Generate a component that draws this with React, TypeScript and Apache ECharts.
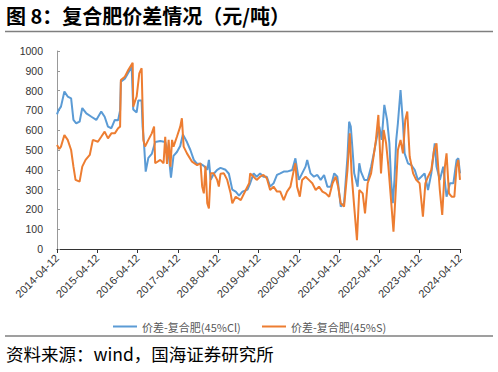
import React, { useEffect, useRef } from "react";
import * as echarts from "echarts";

const titleText = "图 8：复合肥价差情况（元/吨）";
const sourceText = "资料来源：wind，国海证券研究所";
const seriesNames = ["价差-复合肥(45%Cl)", "价差-复合肥(45%S)"];
const tickLabels = [
  "2014-04-12", "2015-04-12", "2016-04-12", "2017-04-12", "2018-04-12", "2019-04-12",
  "2020-04-12", "2021-04-12", "2022-04-12", "2023-04-12", "2024-04-12",
];

const clDates = [
  "2014-04-12", "2014-04-25", "2014-05-18", "2014-06-18", "2014-07-18", "2014-08-18", "2014-09-08", "2014-10-03",
  "2014-11-03", "2014-11-27", "2015-01-03", "2015-02-18", "2015-04-03", "2015-05-18", "2015-06-18", "2015-07-18",
  "2015-08-18", "2015-09-18", "2015-10-18", "2015-11-05", "2015-11-12", "2015-12-18", "2016-01-18", "2016-02-18",
  "2016-03-03", "2016-04-03", "2016-04-18", "2016-05-18", "2016-05-27", "2016-06-08", "2016-06-24", "2016-07-18",
  "2016-08-18", "2016-09-18", "2016-11-03", "2016-12-18", "2017-01-18", "2017-02-08", "2017-03-03", "2017-04-03",
  "2017-05-03", "2017-05-27", "2017-07-03", "2017-08-03", "2017-09-03", "2017-10-03", "2017-11-03", "2017-12-03",
  "2018-01-03", "2018-01-18", "2018-02-03", "2018-03-03", "2018-04-03", "2018-05-03", "2018-06-18", "2018-07-18",
  "2018-08-18", "2018-09-18", "2018-10-18", "2018-11-18", "2019-01-03", "2019-01-27", "2019-02-27", "2019-03-27",
  "2019-04-27", "2019-05-27", "2019-06-27", "2019-07-27", "2019-08-27", "2019-09-27", "2019-10-27", "2019-11-27",
  "2019-12-27", "2020-02-12", "2020-03-12", "2020-04-12", "2020-05-12", "2020-06-12", "2020-06-27", "2020-07-27",
  "2020-08-27", "2020-09-27", "2020-10-27", "2020-11-27", "2020-12-27", "2021-01-27", "2021-02-27", "2021-03-27",
  "2021-04-27", "2021-05-27", "2021-06-27", "2021-07-12", "2021-07-27", "2021-08-12", "2021-08-27", "2021-09-27",
  "2021-10-12", "2021-10-27", "2021-11-27", "2021-12-27", "2022-01-27", "2022-02-27", "2022-03-21", "2022-04-12",
  "2022-05-03", "2022-05-27", "2022-06-21", "2022-07-12", "2022-07-27", "2022-08-12", "2022-08-27", "2022-09-12",
  "2022-09-27", "2022-10-21", "2022-11-12", "2022-11-27", "2022-12-27", "2023-01-27", "2023-02-27", "2023-03-27",
  "2023-04-27", "2023-05-27", "2023-06-27", "2023-07-27", "2023-08-27", "2023-09-12", "2023-10-12", "2023-11-12",
  "2023-12-12", "2024-01-12", "2024-02-12", "2024-03-12", "2024-03-28", "2024-04-12",
];
const clValues = [
  680, 700, 719, 795, 770, 761, 652, 635,
  643, 712, 685, 668, 652, 694, 668, 618,
  610, 652, 650, 700, 845, 860, 890, 921,
  705, 690, 750, 750, 618, 540, 391, 460,
  480, 540, 545, 540, 480, 360, 470, 490,
  520, 579, 540, 500, 450, 430, 430, 420,
  400, 450, 350, 380, 400, 410, 400, 380,
  300, 290, 270, 290, 300, 332, 382, 365,
  382, 365, 365, 315, 332, 374, 382, 391,
  391, 399, 458, 349, 382, 416, 450, 382,
  365, 374, 349, 374, 315, 315, 382, 365,
  214, 231, 466, 643, 618, 500, 382, 315,
  433, 391, 349, 349, 416, 500, 567, 618,
  551, 728, 652, 534, 349, 231, 349, 551,
  635, 803, 635, 483, 433, 424, 399, 349,
  365, 382, 298, 382, 534, 416, 349, 416,
  264, 332, 332, 450, 458, 382,
];

const sDates = [
  "2014-04-12", "2014-05-03", "2014-05-18", "2014-06-18", "2014-07-18", "2014-08-18", "2014-09-08", "2014-09-27",
  "2014-11-03", "2014-11-27", "2014-12-27", "2015-02-03", "2015-03-03", "2015-04-18", "2015-05-18", "2015-06-18",
  "2015-07-18", "2015-08-18", "2015-09-18", "2015-10-18", "2015-11-05", "2015-11-12", "2015-12-18", "2016-01-18",
  "2016-02-27", "2016-03-03", "2016-03-18", "2016-04-03", "2016-04-27", "2016-05-18", "2016-06-03", "2016-06-18",
  "2016-07-18", "2016-08-18", "2016-09-08", "2016-09-18", "2016-11-03", "2016-12-03", "2016-12-18", "2017-01-03",
  "2017-01-18", "2017-02-03", "2017-02-18", "2017-03-03", "2017-04-03", "2017-05-03", "2017-05-18", "2017-06-03",
  "2017-07-03", "2017-08-18", "2017-10-03", "2017-11-03", "2017-11-18", "2017-12-03", "2017-12-18", "2018-01-03",
  "2018-01-18", "2018-02-03", "2018-03-03", "2018-04-03", "2018-04-18", "2018-05-03", "2018-06-03", "2018-07-03",
  "2018-08-03", "2018-08-18", "2018-09-18", "2018-11-03", "2018-12-18", "2019-01-18", "2019-01-27", "2019-02-27",
  "2019-03-27", "2019-04-27", "2019-05-27", "2019-06-27", "2019-07-27", "2019-08-27", "2019-09-27", "2019-10-27",
  "2019-11-27", "2019-12-27", "2020-01-27", "2020-02-27", "2020-03-12", "2020-03-27", "2020-04-21", "2020-05-12",
  "2020-06-12", "2020-07-12", "2020-08-12", "2020-09-12", "2020-10-12", "2020-11-12", "2020-12-12", "2021-01-12",
  "2021-02-12", "2021-03-12", "2021-04-03", "2021-04-27", "2021-05-27", "2021-06-27", "2021-07-18", "2021-08-03",
  "2021-08-27", "2021-09-21", "2021-10-12", "2021-11-12", "2021-12-03", "2021-12-27", "2022-01-27", "2022-02-27",
  "2022-03-12", "2022-04-03", "2022-04-27", "2022-05-21", "2022-06-12", "2022-07-03", "2022-07-27", "2022-08-18",
  "2022-09-03", "2022-09-27", "2022-10-21", "2022-11-12", "2022-12-03", "2022-12-21", "2023-01-12", "2023-02-12",
  "2023-03-12", "2023-04-12", "2023-05-12", "2023-06-03", "2023-06-27", "2023-07-27", "2023-08-21", "2023-09-12",
  "2023-09-27", "2023-10-12", "2023-11-03", "2023-11-27", "2023-12-12", "2024-01-03", "2024-01-27", "2024-02-21",
  "2024-03-12", "2024-03-27", "2024-04-12",
];
const sValues = [
  525, 505, 517, 576, 551, 500, 416, 349,
  340, 416, 450, 475, 551, 542, 567, 593,
  559, 584, 584, 610, 618, 854, 870, 904,
  941, 719, 744, 770, 887, 913, 551, 517,
  551, 584, 618, 433, 450, 433, 567, 430,
  551, 416, 551, 517, 567, 618, 660, 517,
  483, 441, 424, 433, 315, 281, 420, 231,
  205, 382, 382, 349, 315, 380, 382, 349,
  281, 231, 264, 247, 298, 332, 382, 365,
  349, 365, 374, 357, 298, 315, 290, 290,
  247, 290, 315, 399, 433, 315, 264, 349,
  365, 349, 332, 298, 315, 290, 281, 264,
  332, 365, 315, 231, 214, 399, 584, 382,
  214, 45, 298, 281, 180, 332, 382, 500,
  551, 677, 382, 601, 534, 416, 247, 88,
  247, 500, 551, 483, 652, 694, 466, 382,
  349, 332, 163, 332, 365, 399, 500, 534,
  416, 298, 172, 416, 483, 281, 264, 264,
  416, 450, 349,
];

const CJK = '"Noto Sans CJK SC", "Liberation Sans", sans-serif';
const LATIN = '"Liberation Sans", Arial, sans-serif';

export default function App() {
  const ref = useRef<HTMLDivElement>(null);
  useEffect(() => {
    if (!ref.current) return;
    const chart = echarts.init(ref.current, undefined, { renderer: "svg" });
    const clData = clDates.map((d, i) => [d, clValues[i]]);
    const sData = sDates.map((d, i) => [d, sValues[i]]);
    const legendBase = {
      top: 316,
      icon: "rect",
      itemWidth: 24,
      itemHeight: 2,
      textStyle: { fontFamily: CJK, fontSize: 11, color: "#595959" },
    };
    chart.setOption({
      animation: false,
      backgroundColor: "#ffffff",
      grid: { left: 57, right: 38, top: 51, bottom: 123, containLabel: false },
      legend: [
        { ...legendBase, data: [seriesNames[0]], left: 108 },
        { ...legendBase, data: [seriesNames[1]], left: 257 },
      ],
      xAxis: [
        {
          type: "time",
          min: tickLabels[0],
          max: tickLabels[tickLabels.length - 1],
          show: false,
        },
        {
          type: "category",
          position: "bottom",
          data: tickLabels,
          boundaryGap: false,
          axisLine: { show: true, lineStyle: { color: "#333333", width: 1 } },
          axisTick: { show: true, length: 4, lineStyle: { color: "#333333" } },
          axisLabel: {
            interval: 0,
            rotate: 45,
            margin: 7,
            fontFamily: LATIN,
            fontSize: 11,
            color: "#333333",
          },
          splitLine: { show: false },
        },
      ],
      yAxis: {
        type: "value",
        min: 0,
        max: 1000,
        interval: 100,
        axisLine: { show: true, lineStyle: { color: "#999999", width: 1 } },
        axisTick: { show: true, inside: true, length: 3, lineStyle: { color: "#999999" } },
        axisLabel: {
          margin: 14,
          fontFamily: LATIN,
          fontSize: 10.5,
          color: "#333333",
          formatter: (v: number) => String(v),
        },
        splitLine: { show: false },
      },
      series: [
        {
          name: seriesNames[0],
          type: "line",
          xAxisIndex: 0,
          data: clData,
          showSymbol: false,
          symbol: "none",
          lineStyle: { color: "#5B9BD5", width: 2 },
          itemStyle: { color: "#5B9BD5" },
        },
        {
          name: seriesNames[1],
          type: "line",
          xAxisIndex: 0,
          data: sData,
          showSymbol: false,
          symbol: "none",
          lineStyle: { color: "#ED7D31", width: 2 },
          itemStyle: { color: "#ED7D31" },
        },
      ],
      graphic: [
        {
          type: "text",
          left: 6,
          top: 5,
          style: {
            text: titleText,
            font: `bold 20px ${CJK}`,
            fill: "#000000",
          },
        },
        {
          type: "line",
          shape: { x1: 5, y1: 31.5, x2: 493, y2: 31.5 },
          style: { stroke: "#7f7f7f", lineWidth: 1.5 },
        },
        {
          type: "line",
          shape: { x1: 5, y1: 336, x2: 493, y2: 336 },
          style: { stroke: "#7f7f7f", lineWidth: 1.5 },
        },
        {
          type: "text",
          left: 6,
          top: 345,
          style: {
            text: sourceText,
            font: `17.5px ${CJK}`,
            fill: "#000000",
          },
        },
      ],
    });
    return () => chart.dispose();
  }, []);
  return (
    <div
      ref={ref}
      style={{ position: "absolute", left: 0, top: 0, width: 498, height: 372, background: "#fff" }}
    />
  );
}
